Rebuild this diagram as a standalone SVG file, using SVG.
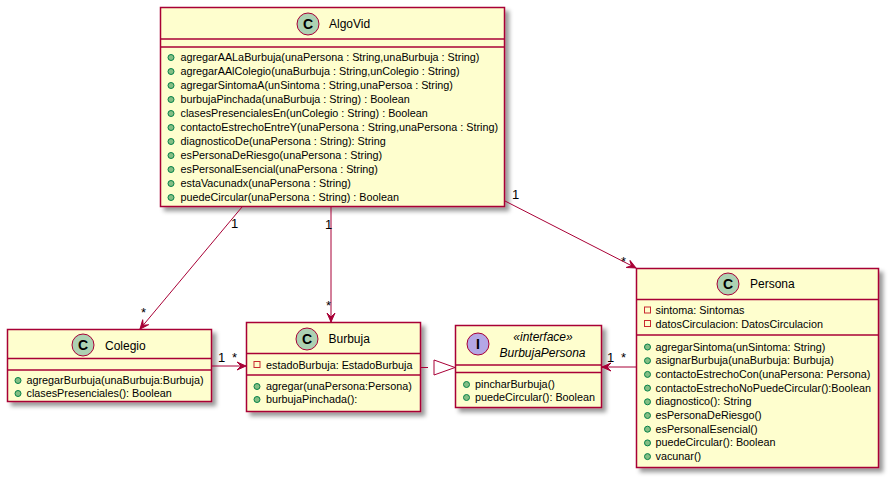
<svg xmlns="http://www.w3.org/2000/svg" width="891" height="480" viewBox="0 0 891 480">
  <style>
    .box { fill: #FEFECE; stroke: #A80036; stroke-width: 1.5; }
    .sep { stroke: #A80036; stroke-width: 1.5; }
    .title { font-family: "Liberation Sans", Arial, sans-serif; font-size: 12px; fill: #000000; }
    .mem { font-family: "Liberation Sans", Arial, sans-serif; font-size: 10.8px; fill: #000000; }
    .lbl { font-family: "Liberation Sans", Arial, sans-serif; font-size: 13px; fill: #000000; }
    .stereo { font-family: "Liberation Sans", Arial, sans-serif; font-size: 12px; font-style: italic; fill: #000000; }
    .pub { fill: #84BE84; stroke: #038048; stroke-width: 1; }
    .priv { fill: none; stroke: #C82930; stroke-width: 1; }
    .cls { fill: #ADD1B2; stroke: #A80036; stroke-width: 1; }
    .ifc { fill: #B4A7E5; stroke: #A80036; stroke-width: 1; }
    .glyph { font-family: "Liberation Sans", Arial, sans-serif; font-size: 14px; font-weight: bold; fill: #000000; }
    .edge { fill: none; stroke: #A80036; stroke-width: 1; }
  </style>
  <defs>
    <filter id="shadow" x="-10%" y="-10%" width="130%" height="130%">
      <feGaussianBlur in="SourceAlpha" stdDeviation="2" result="blur"/>
      <feColorMatrix in="blur" type="matrix" values="0 0 0 0 0  0 0 0 0 0  0 0 0 0 0  0 0 0 0.4 0" result="dark"/>
      <feOffset in="dark" dx="4" dy="4" result="off"/>
      <feMerge>
        <feMergeNode in="off"/>
        <feMergeNode in="SourceGraphic"/>
      </feMerge>
    </filter>
    <marker id="arrow" viewBox="-10 -5 11 10" refX="0" refY="0" markerWidth="11" markerHeight="10" markerUnits="userSpaceOnUse" orient="auto">
      <path d="M0,0 L-9,-4 L-5,0 L-9,4 Z" fill="#A80036" stroke="#A80036" stroke-width="1"/>
    </marker>
  </defs>

  <!-- AlgoVid -->
  <g id="AlgoVid">
    <rect class="box" x="160.5" y="7.5" width="344" height="199" filter="url(#shadow)"/>
    <circle class="cls" cx="308" cy="24" r="11"/>
    <text class="glyph" x="308" y="29" text-anchor="middle">C</text>
    <text class="title" x="329" y="28">AlgoVid</text>
    <line class="sep" x1="160.5" y1="39" x2="504.5" y2="39"/>
    <line class="sep" x1="160.5" y1="47" x2="504.5" y2="47"/>
    <g>
      <circle class="pub" cx="171" cy="57.5" r="3"/>
      <text class="mem" x="180.5" y="61">agregarAALaBurbuja(unaPersona : String,unaBurbuja : String)</text>
      <circle class="pub" cx="171" cy="71.5" r="3"/>
      <text class="mem" x="180.5" y="75">agregarAAlColegio(unaBurbuja : String,unColegio : String)</text>
      <circle class="pub" cx="171" cy="85.5" r="3"/>
      <text class="mem" x="180.5" y="89">agregarSintomaA(unSintoma : String,unaPersoa : String)</text>
      <circle class="pub" cx="171" cy="99.5" r="3"/>
      <text class="mem" x="180.5" y="103">burbujaPinchada(unaBurbuja : String) : Boolean</text>
      <circle class="pub" cx="171" cy="113.5" r="3"/>
      <text class="mem" x="180.5" y="117">clasesPresencialesEn(unColegio : String) : Boolean</text>
      <circle class="pub" cx="171" cy="127.5" r="3"/>
      <text class="mem" x="180.5" y="131">contactoEstrechoEntreY(unaPersona : String,unaPersona : String)</text>
      <circle class="pub" cx="171" cy="141.5" r="3"/>
      <text class="mem" x="180.5" y="145">diagnosticoDe(unaPersona : String): String</text>
      <circle class="pub" cx="171" cy="155.5" r="3"/>
      <text class="mem" x="180.5" y="159">esPersonaDeRiesgo(unaPersona : String)</text>
      <circle class="pub" cx="171" cy="169.5" r="3"/>
      <text class="mem" x="180.5" y="173">esPersonalEsencial(unaPersona : String)</text>
      <circle class="pub" cx="171" cy="183.5" r="3"/>
      <text class="mem" x="180.5" y="187">estaVacunadx(unaPersona : String)</text>
      <circle class="pub" cx="171" cy="197.5" r="3"/>
      <text class="mem" x="180.5" y="201">puedeCircular(unaPersona : String) : Boolean</text>
    </g>
  </g>

  <!-- Colegio -->
  <g id="Colegio">
    <rect class="box" x="7.5" y="329.5" width="204" height="72" filter="url(#shadow)"/>
    <circle class="cls" cx="83" cy="345" r="11"/>
    <text class="glyph" x="83" y="350" text-anchor="middle">C</text>
    <text class="title" x="105" y="349.5">Colegio</text>
    <line class="sep" x1="7.5" y1="358.5" x2="211.5" y2="358.5"/>
    <line class="sep" x1="7.5" y1="370" x2="211.5" y2="370"/>
    <circle class="pub" cx="18" cy="380.5" r="3"/>
    <text class="mem" x="26.5" y="384">agregarBurbuja(unaBurbuja:Burbuja)</text>
    <circle class="pub" cx="18" cy="393.5" r="3"/>
    <text class="mem" x="26.5" y="397">clasesPresenciales(): Boolean</text>
  </g>

  <!-- Burbuja -->
  <g id="Burbuja">
    <rect class="box" x="246.5" y="322.5" width="174" height="89" filter="url(#shadow)"/>
    <circle class="cls" cx="307" cy="339" r="11"/>
    <text class="glyph" x="307" y="344" text-anchor="middle">C</text>
    <text class="title" x="328.5" y="342.5">Burbuja</text>
    <line class="sep" x1="246.5" y1="353.5" x2="420.5" y2="353.5"/>
    <rect class="priv" x="254" y="361.5" width="6" height="6"/>
    <text class="mem" x="266" y="369">estadoBurbuja: EstadoBurbuja</text>
    <line class="sep" x1="246.5" y1="375" x2="420.5" y2="375"/>
    <circle class="pub" cx="257" cy="386.5" r="3"/>
    <text class="mem" x="266" y="390">agregar(unaPersona:Persona)</text>
    <circle class="pub" cx="257" cy="399.5" r="3"/>
    <text class="mem" x="266" y="403">burbujaPinchada():</text>
  </g>

  <!-- BurbujaPersona -->
  <g id="BurbujaPersona">
    <rect class="box" x="455.5" y="325.5" width="146" height="82" filter="url(#shadow)"/>
    <circle class="ifc" cx="478" cy="344" r="11"/>
    <text class="glyph" x="478" y="349" text-anchor="middle">I</text>
    <text class="stereo" x="543" y="341" text-anchor="middle">«interface»</text>
    <text class="stereo" x="542.5" y="357" text-anchor="middle">BurbujaPersona</text>
    <line class="sep" x1="455.5" y1="365" x2="601.5" y2="365"/>
    <line class="sep" x1="455.5" y1="372.5" x2="601.5" y2="372.5"/>
    <circle class="pub" cx="466.5" cy="384.5" r="3"/>
    <text class="mem" x="475" y="388">pincharBurbuja()</text>
    <circle class="pub" cx="466.5" cy="397.5" r="3"/>
    <text class="mem" x="475" y="401">puedeCircular(): Boolean</text>
  </g>

  <!-- Persona -->
  <g id="Persona">
    <rect class="box" x="636.5" y="268.5" width="242" height="199" filter="url(#shadow)"/>
    <circle class="cls" cx="728" cy="284" r="11"/>
    <text class="glyph" x="728" y="289" text-anchor="middle">C</text>
    <text class="title" x="750" y="288">Persona</text>
    <line class="sep" x1="636.5" y1="299.5" x2="878.5" y2="299.5"/>
    <rect class="priv" x="644.5" y="307" width="6" height="6"/>
    <text class="mem" x="655.5" y="314">sintoma: Sintomas</text>
    <rect class="priv" x="644.5" y="320.5" width="6" height="6"/>
    <text class="mem" x="655.5" y="327.5">datosCirculacion: DatosCirculacion</text>
    <line class="sep" x1="636.5" y1="335" x2="878.5" y2="335"/>
    <circle class="pub" cx="647.5" cy="347" r="3"/>
    <text class="mem" x="655.5" y="350.5">agregarSintoma(unSintoma: String)</text>
    <circle class="pub" cx="647.5" cy="360.7" r="3"/>
    <text class="mem" x="655.5" y="364.2">asignarBurbuja(unaBurbuja: Burbuja)</text>
    <circle class="pub" cx="647.5" cy="374.4" r="3"/>
    <text class="mem" x="655.5" y="377.9">contactoEstrechoCon(unaPersona: Persona)</text>
    <circle class="pub" cx="647.5" cy="388.1" r="3"/>
    <text class="mem" x="655.5" y="391.6">contactoEstrechoNoPuedeCircular():Boolean</text>
    <circle class="pub" cx="647.5" cy="401.8" r="3"/>
    <text class="mem" x="655.5" y="405.3">diagnostico(): String</text>
    <circle class="pub" cx="647.5" cy="415.5" r="3"/>
    <text class="mem" x="655.5" y="419">esPersonaDeRiesgo()</text>
    <circle class="pub" cx="647.5" cy="429.2" r="3"/>
    <text class="mem" x="655.5" y="432.7">esPersonalEsencial()</text>
    <circle class="pub" cx="647.5" cy="442.9" r="3"/>
    <text class="mem" x="655.5" y="446.4">puedeCircular(): Boolean</text>
    <circle class="pub" cx="647.5" cy="456.6" r="3"/>
    <text class="mem" x="655.5" y="460.1">vacunar()</text>
  </g>

  <!-- Associations and realization -->
  <g id="connectors">
    <line class="edge" x1="242" y1="207" x2="140" y2="329" marker-end="url(#arrow)"/>
    <text class="lbl" x="231" y="228">1</text>
    <text class="lbl" x="141" y="317">*</text>

    <line class="edge" x1="331" y1="207" x2="331" y2="322" marker-end="url(#arrow)"/>
    <text class="lbl" x="325" y="229">1</text>
    <text class="lbl" x="326" y="310">*</text>

    <line class="edge" x1="505" y1="201" x2="636" y2="268" marker-end="url(#arrow)"/>
    <text class="lbl" x="512" y="199">1</text>
    <text class="lbl" x="621" y="266">*</text>

    <line class="edge" x1="212" y1="366" x2="246" y2="366" marker-end="url(#arrow)"/>
    <text class="lbl" x="218" y="362">1</text>
    <text class="lbl" x="232" y="362">*</text>

    <line class="edge" x1="421" y1="367.5" x2="434" y2="367.5" stroke-dasharray="7,7"/>
    <polygon points="434,360 455,367.5 434,375" fill="#FFFFFF" stroke="#A80036" stroke-width="1"/>

    <line class="edge" x1="636" y1="367" x2="602" y2="367" marker-end="url(#arrow)"/>
    <text class="lbl" x="607" y="362">1</text>
    <text class="lbl" x="621" y="362">*</text>
  </g>
</svg>
